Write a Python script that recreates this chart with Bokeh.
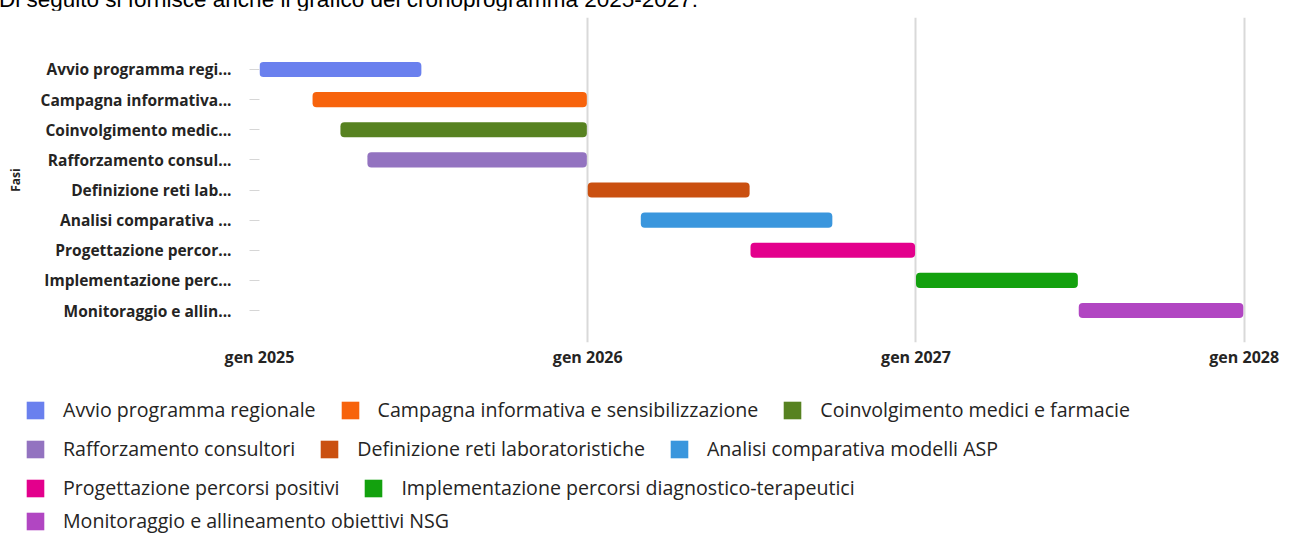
import pandas as pd
from bokeh.plotting import figure
from bokeh.models import ColumnDataSource, Range1d, FixedTicker, Legend, LegendItem, Div
from bokeh.layouts import column
from bokeh.embed import file_html
from bokeh.resources import INLINE

# ---------------- data ----------------
intro_text = "Di seguito si fornisce anche il grafico del cronoprogramma 2025-2027:"
phases = [
    "Avvio programma regionale",
    "Campagna informativa e sensibilizzazione",
    "Coinvolgimento medici e farmacie",
    "Rafforzamento consultori",
    "Definizione reti laboratoristiche",
    "Analisi comparativa modelli ASP",
    "Progettazione percorsi positivi",
    "Implementazione percorsi diagnostico-terapeutici",
    "Monitoraggio e allineamento obiettivi NSG",
]
axis_labels = [
    "Avvio programma regi...",
    "Campagna informativa...",
    "Coinvolgimento medic...",
    "Rafforzamento consul...",
    "Definizione reti lab...",
    "Analisi comparativa ...",
    "Progettazione percor...",
    "Implementazione perc...",
    "Monitoraggio e allin...",
]
starts = ["2025-01-01", "2025-03-01", "2025-04-01", "2025-05-01", "2026-01-01",
          "2026-03-01", "2026-07-01", "2027-01-01", "2027-07-01"]
ends = ["2025-06-30", "2025-12-31", "2025-12-31", "2025-12-31", "2026-06-30",
        "2026-09-30", "2026-12-31", "2027-06-30", "2027-12-31"]
colors = ["#6A80EE", "#F7630C", "#578221", "#9373C0", "#CA5010",
          "#3A96DD", "#E3008C", "#13A10E", "#B146C2"]
tick_dates = ["2025-01-01", "2026-01-01", "2027-01-01", "2028-01-01"]
tick_labels = ["gen 2025", "gen 2026", "gen 2027", "gen 2028"]
y_title = "Fasi"
legend_rows = [[0, 1, 2], [3, 4, 5], [6, 7], [8]]


def to_ms(dates):
    return [int(v) // 10**6 for v in pd.to_datetime(dates).astype("int64")]


n = len(phases)
ypos = list(range(n, 0, -1))
source = ColumnDataSource(dict(
    y=ypos,
    left=to_ms(starts),
    right=to_ms(ends),
    color=colors,
    phase=phases,
))

x_ticks = to_ms(tick_dates)
x_start = to_ms(["2025-01-01"])[0]
x_end = to_ms(["2028-01-28"])[0]

TXT = "#252423"
FONT = "Open Sans"

# ---------------- main gantt ----------------
p = figure(
    width=1291, height=370,
    x_range=Range1d(x_start, x_end),
    y_range=Range1d(-0.062, 10.726),
    output_backend="svg", toolbar_location=None,
    min_border_left=259, min_border_right=23, min_border_top=7, min_border_bottom=38,
)
p.outline_line_color = None
p.background_fill_color = "white"

bar_style = dict(y="y", left="left", right="right", height=0.5, fill_color="color",
                 line_color=None, border_radius=4, source=source)
r = p.hbar(**bar_style)

xa = p.xaxis[0]
xa.ticker = FixedTicker(ticks=x_ticks, minor_ticks=[])
xa.major_label_overrides = {t: l for t, l in zip(x_ticks, tick_labels)}
xa.axis_line_color = None
xa.major_tick_line_color = None
xa.minor_tick_line_color = None
xa.major_tick_out = 0
xa.major_tick_in = 0
xa.major_label_standoff = 3
xa.major_label_text_font = FONT
xa.major_label_text_font_style = "bold"
xa.major_label_text_font_size = "16px"
xa.major_label_text_color = TXT

ya = p.yaxis[0]
ya.ticker = FixedTicker(ticks=ypos, minor_ticks=[])
ya.major_label_overrides = {y: l for y, l in zip(ypos, axis_labels)}
ya.axis_line_color = None
ya.major_tick_line_color = "#d6d6d6"
ya.major_tick_line_width = 1
ya.major_tick_out = 10
ya.major_tick_in = 0
ya.minor_tick_line_color = None
ya.major_label_standoff = 18
ya.major_label_text_font = FONT
ya.major_label_text_font_style = "bold"
ya.major_label_text_font_size = "15.5px"
ya.major_label_text_color = TXT
ya.axis_label = y_title
ya.axis_label_text_font = FONT
ya.axis_label_text_font_style = "bold"
ya.axis_label_text_font_size = "12px"
ya.axis_label_text_color = TXT
ya.axis_label_standoff = 14

p.ygrid.grid_line_color = None
p.xgrid.grid_line_color = "#d9d9d9"
p.xgrid.grid_line_width = 2

# ---------------- legend panel (separate root) ----------------
# same bars (same source/colours), out of this panel's view: only the legend shows
pl = figure(
    width=1291, height=154,
    x_range=Range1d(0, 1), y_range=Range1d(0, 1),
    output_backend="svg", toolbar_location=None,
    x_axis_location=None, y_axis_location=None,
    min_border_left=0, min_border_right=0, min_border_top=0, min_border_bottom=0,
)
pl.outline_line_color = None
pl.xgrid.visible = False
pl.ygrid.visible = False
rl = pl.hbar(**bar_style)

items = [LegendItem(label=phases[i], renderers=[rl], index=i) for i in range(n)]
legend_vy = [111, 72, 33, 0]
for row, vy in zip(legend_rows, legend_vy):
    lg = Legend(
        items=[items[i] for i in row], orientation="horizontal",
        location=(24, vy), padding=0, margin=0, spacing=23,
        glyph_width=22, glyph_height=22, label_standoff=17,
        label_text_font=FONT, label_text_font_size="19.6px",
        label_text_color=TXT, border_line_color=None,
        background_fill_alpha=0, label_height=16,
    )
    pl.add_layout(lg)

intro = Div(
    text=f'<span style="position:relative; top:-11px; left:-1px; font-family:\'Liberation Sans\'; '
         f'font-size:22.5px; line-height:1; color:#000; white-space:nowrap;">{intro_text}</span>',
    width=1291, height=10, margin=(0, 0, 0, 0),
)

open("out.html", "w").write(file_html([column(intro, p, spacing=0), pl], INLINE))
